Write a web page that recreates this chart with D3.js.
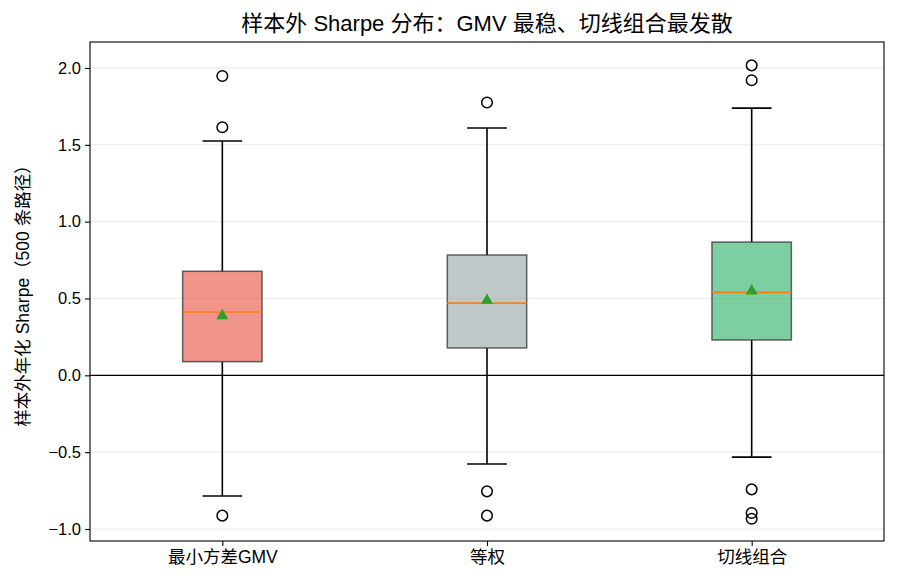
<!DOCTYPE html>
<html><head><meta charset="utf-8">
<script src="https://cdn.jsdelivr.net/npm/d3@7"></script>
<style>
body{margin:0;background:#fff;}
svg{display:block;font-family:"Liberation Sans","Noto Sans CJK SC",sans-serif;}
</style></head>
<body><svg id="c" width="897" height="585"></svg>
<script>
const categories = ["最小方差GMV", "等权", "切线组合"];
const whiskerLow  = [-0.785, -0.577, -0.532];
const q1          = [0.089, 0.178, 0.230];
const median      = [0.412, 0.470, 0.540];
const q3          = [0.677, 0.783, 0.867];
const whiskerHigh = [1.525, 1.609, 1.739];
const means       = [0.388, 0.488, 0.549];
const outliers    = [[1.948, 1.614, -0.913], [1.775, -0.755, -0.913], [2.017, 1.920, -0.742, -0.896, -0.933]];
const yTicks = [-1.0, -0.5, 0.0, 0.5, 1.0, 1.5, 2.0];
const fills = ["rgba(231,76,60,0.6)", "rgba(149,165,166,0.6)", "rgba(39,174,96,0.6)"];
const title = "样本外 Sharpe 分布：GMV 最稳、切线组合最发散";
const yLabel = "样本外年化 Sharpe（500 条路径）";

const svg = d3.select("#c");
const m = {l: 90, r: 884, t: 42, b: 541};
const x = d3.scaleLinear().domain([0.5, 3.5]).range([m.l, m.r]);
const y = d3.scaleLinear().domain([-1.078, 2.169]).range([m.b, m.t]);
const boxW = x(1.3) - x(1);

// grid
svg.append("g").selectAll("line").data(yTicks).join("line")
  .attr("x1", m.l).attr("x2", m.r).attr("y1", d => y(d)).attr("y2", d => y(d))
  .attr("stroke", "#ebebeb").attr("stroke-width", 1.2);
// zero line
svg.append("line").attr("x1", m.l).attr("x2", m.r).attr("y1", y(0)).attr("y2", y(0))
  .attr("stroke", "#000").attr("stroke-width", 1.1);

const g = svg.append("g");
categories.forEach((c, i) => {
  const cx = x(i + 1);
  const gg = g.append("g");
  const lw = 1.6;
  gg.append("line").attr("x1", cx).attr("x2", cx).attr("y1", y(q3[i])).attr("y2", y(whiskerHigh[i])).attr("stroke", "#000").attr("stroke-width", lw);
  gg.append("line").attr("x1", cx).attr("x2", cx).attr("y1", y(q1[i])).attr("y2", y(whiskerLow[i])).attr("stroke", "#000").attr("stroke-width", lw);
  [whiskerHigh[i], whiskerLow[i]].forEach(v => {
    gg.append("line").attr("x1", cx - boxW / 4).attr("x2", cx + boxW / 4).attr("y1", y(v)).attr("y2", y(v)).attr("stroke", "#000").attr("stroke-width", lw);
  });
  gg.append("rect").attr("x", cx - boxW / 2).attr("width", boxW)
    .attr("y", y(q3[i])).attr("height", y(q1[i]) - y(q3[i]))
    .attr("fill", fills[i]).attr("stroke", "rgba(50,50,50,0.75)").attr("stroke-width", 1.5);
  gg.append("line").attr("x1", cx - boxW / 2).attr("x2", cx + boxW / 2).attr("y1", y(median[i])).attr("y2", y(median[i]))
    .attr("stroke", "#ff7f0e").attr("stroke-width", 1.6);
  gg.append("path").attr("d", d3.symbol(d3.symbolTriangle, 62)()).attr("transform", `translate(${cx},${y(means[i])})`).attr("fill", "#2ca02c");
  gg.selectAll("circle").data(outliers[i]).join("circle")
    .attr("cx", cx).attr("cy", d => y(d)).attr("r", 5.3).attr("fill", "none").attr("stroke", "#000").attr("stroke-width", 1.5);
});

// frame
svg.append("rect").attr("x", m.l).attr("y", m.t).attr("width", m.r - m.l).attr("height", m.b - m.t)
  .attr("fill", "none").attr("stroke", "#000").attr("stroke-width", 1.1);

// axes
const yAxis = d3.axisLeft(y).tickValues(yTicks).tickFormat(d => d3.format(".1f")(d).replace("-", "−")).tickSize(5).tickPadding(4);
svg.append("g").attr("transform", `translate(${m.l},0)`).call(yAxis)
  .call(a => a.select(".domain").remove())
  .call(a => a.selectAll("text").attr("font-size", 16.5).attr("fill", "#000").attr("font-family", "Liberation Sans, Noto Sans CJK SC"))
  .call(a => a.selectAll("line").attr("stroke", "#000").attr("stroke-width", 1.1));
const xAxis = d3.axisBottom(x).tickValues([1, 2, 3]).tickFormat((d, i) => categories[i]).tickSize(5).tickPadding(5);
svg.append("g").attr("transform", `translate(0,${m.b})`).call(xAxis)
  .call(a => a.select(".domain").remove())
  .call(a => a.selectAll("text").attr("font-size", 17.5).attr("fill", "#000").attr("font-family", "Liberation Sans, Noto Sans CJK SC"))
  .call(a => a.selectAll("line").attr("stroke", "#000").attr("stroke-width", 1.1));

svg.append("text").attr("x", (m.l + m.r) / 2).attr("y", 31).attr("text-anchor", "middle")
  .attr("font-size", 22).attr("fill", "#000").text(title);
svg.append("text").attr("transform", `translate(29,${(m.t + m.b) / 2}) rotate(-90)`).attr("text-anchor", "middle")
  .attr("font-size", 17.5).attr("fill", "#000").text(yLabel);
</script></body></html>
